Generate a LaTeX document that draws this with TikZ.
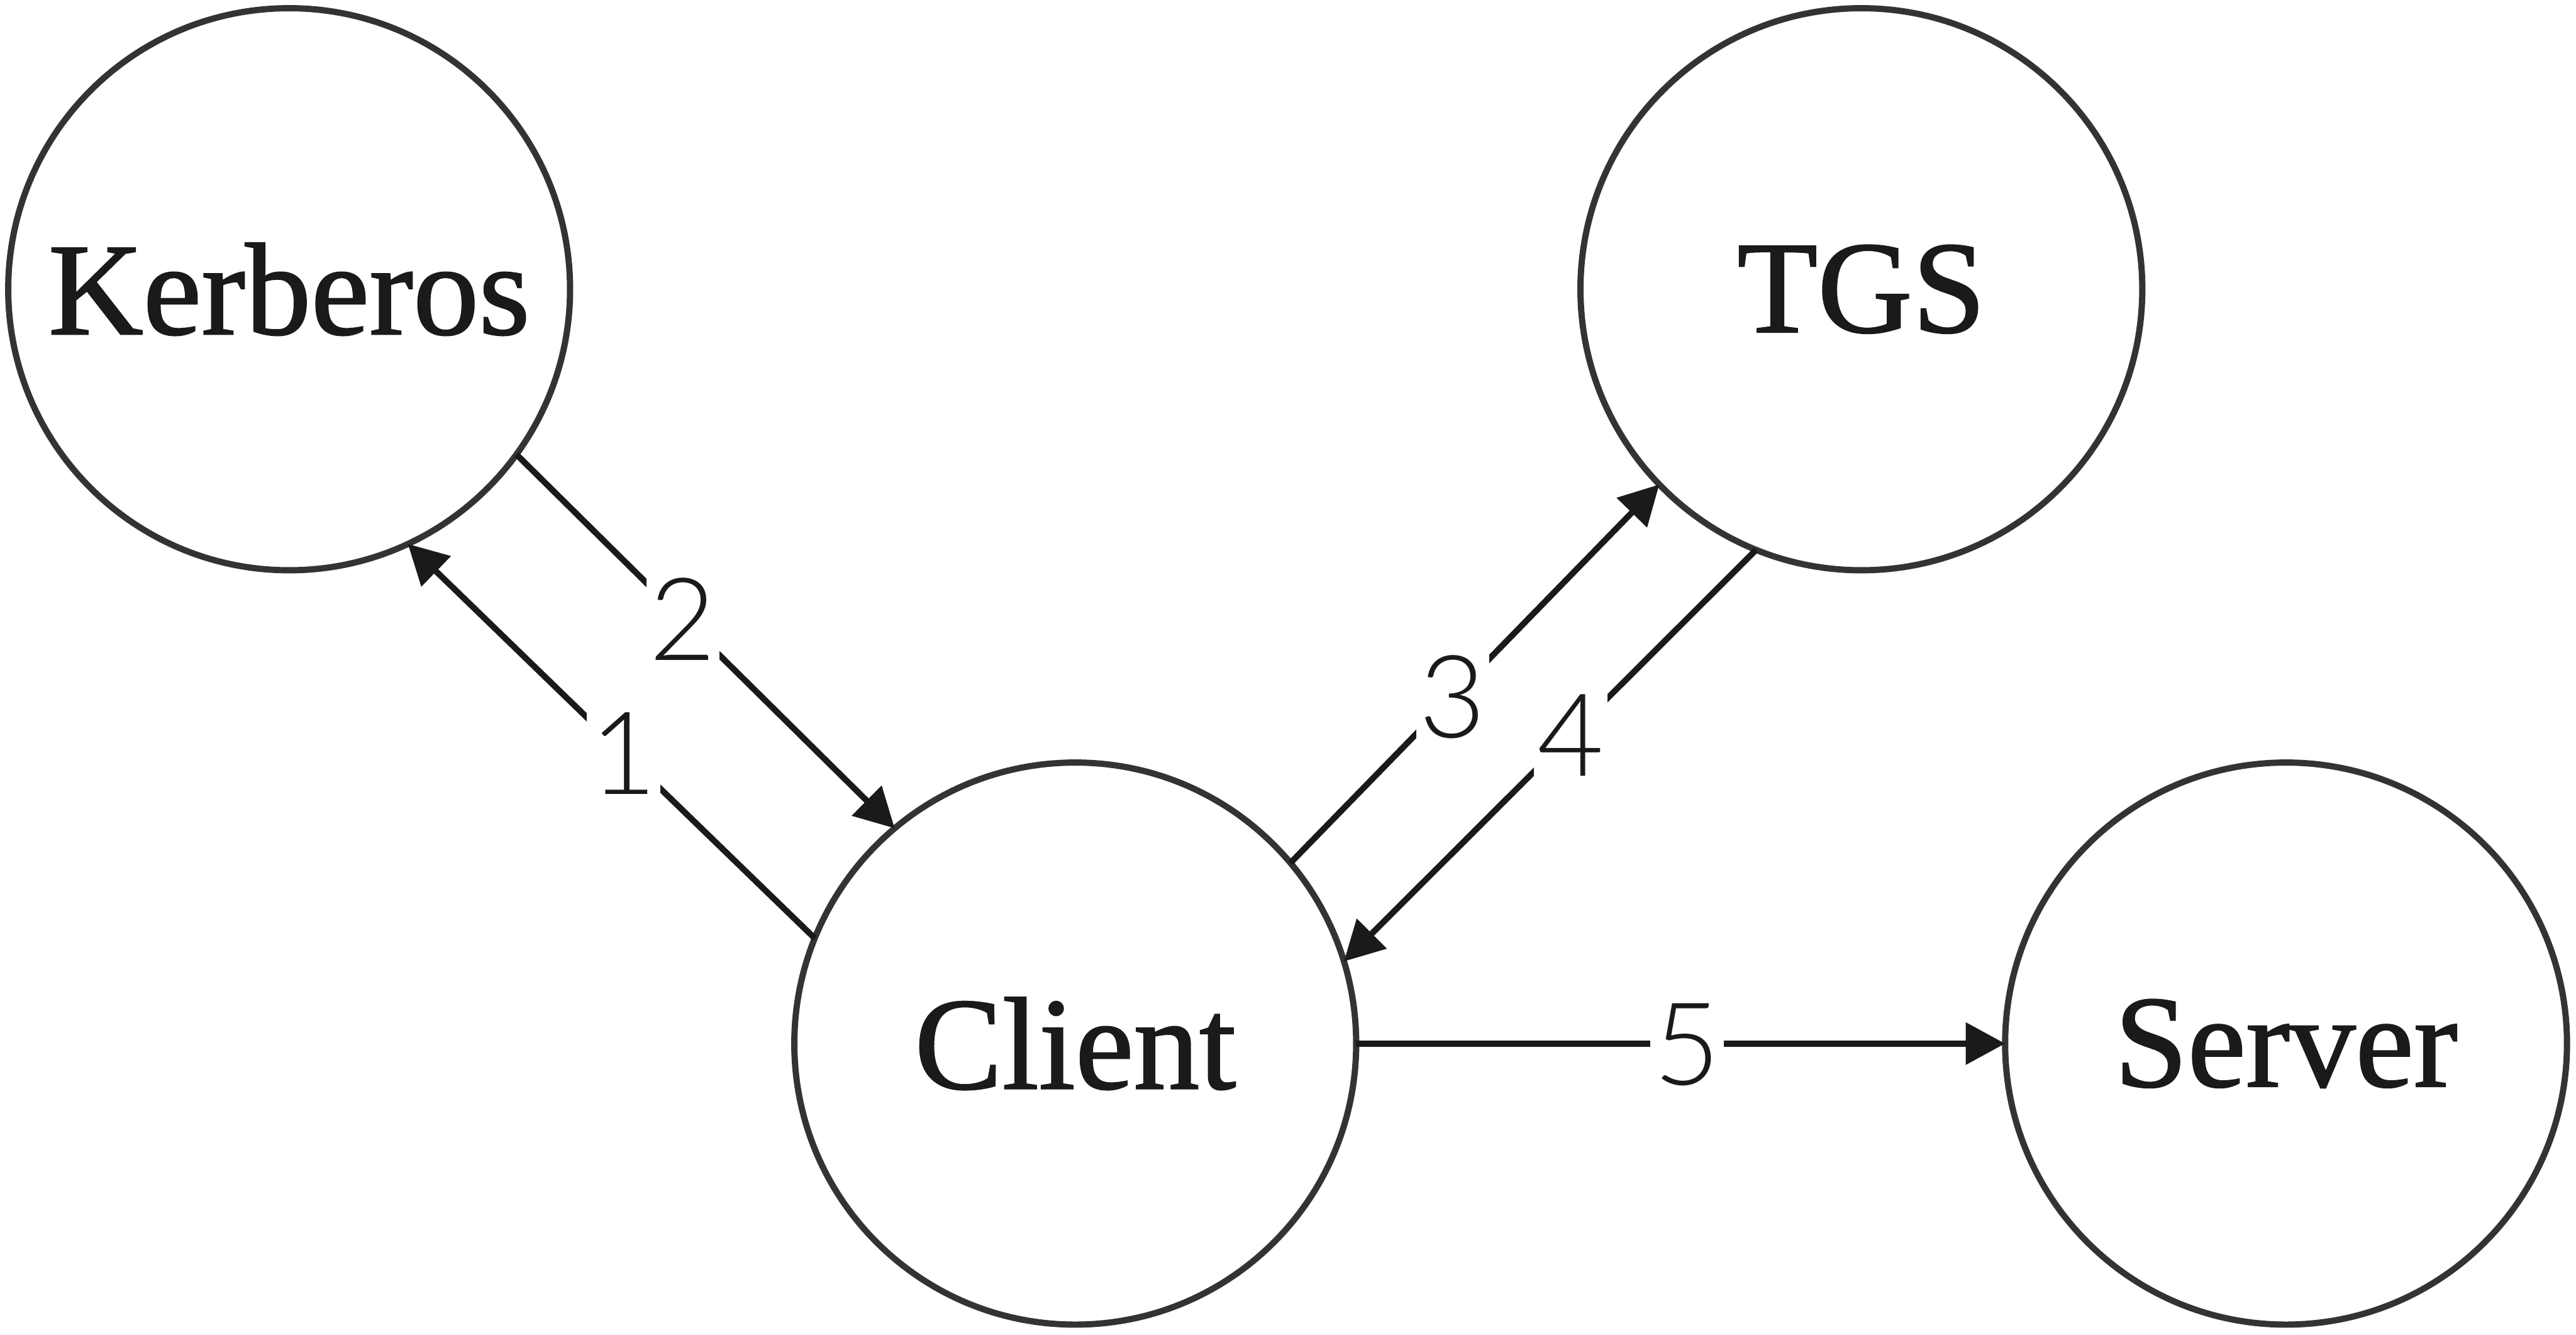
\documentclass[tikz,border=0pt]{standalone}
\usepackage{fontspec}
\setmainfont{Liberation Serif}[FakeBold=1]
\newfontfamily\nodefont{Liberation Serif}[FakeBold=1.2]
\newfontfamily\lblfont{Lato}[UprightFont=* Light]
\usetikzlibrary{arrows.meta}
\definecolor{circ}{HTML}{333333}
\definecolor{ink}{HTML}{1A1A1A}
\begin{document}
\begin{tikzpicture}[x=0.5pt,y=-0.5pt,
  state/.style={circle,draw=circ,line width=1.9pt,minimum size=171pt,inner sep=0pt,outer sep=0pt,font=\nodefont\fontsize{40}{48}\selectfont,text=ink},
  conn/.style={draw=ink,line width=1.85pt,-{Triangle[length=12pt,width=12.5pt]}},
  lbl/.style={fill=white,inner sep=1pt,text height=25pt,text depth=0pt,font=\lblfont\fontsize{35}{40}\selectfont,text=ink}]
\useasboundingbox (0,0) rectangle (1568,812);
\node[state] (k) at (176,176) {Kerberos};
\node[state] (t) at (1133,176) {TGS};
\node[state] (c) at (654.5,635) {Client};
\node[state] (s) at (1391.5,635) {Server};
\draw[conn] (c.158.8) -- node[lbl,pos=0.47]{1} (k.-65.8);
\draw[conn] (k.-36.6) -- node[lbl,pos=0.44]{2} (c.130.7);
\draw[conn] (c.40.9) -- node[lbl,pos=0.44]{3} (t.224.3);
\draw[conn] (t.248.1) -- node[lbl,pos=0.45]{4} (c.17.8);
\draw[conn] (c.0) -- node[lbl,pos=0.51]{5} (s.180);
\end{tikzpicture}
\end{document}
